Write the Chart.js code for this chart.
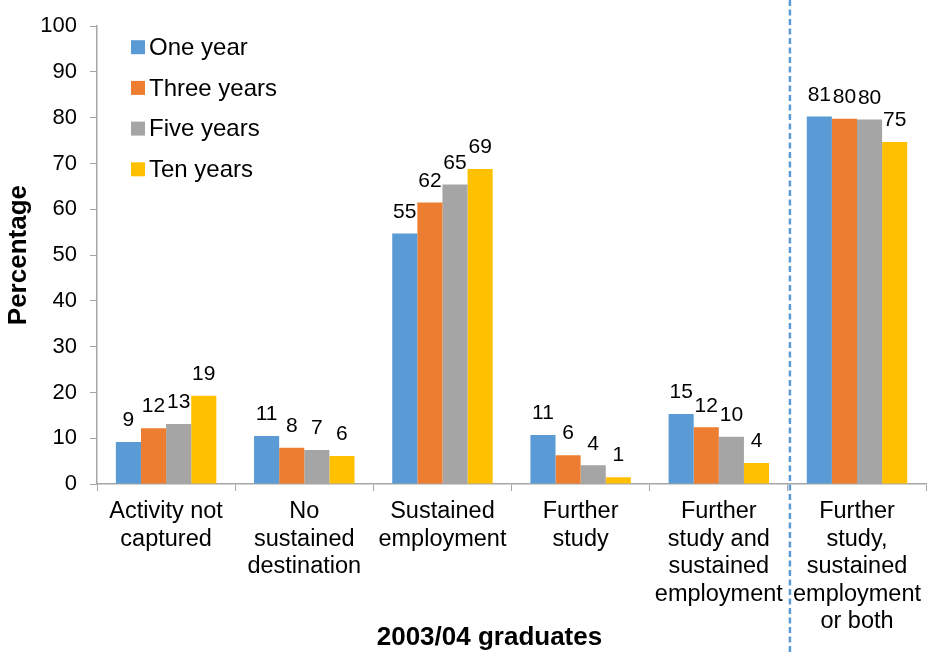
<!DOCTYPE html>
<html>
<head>
<meta charset="utf-8">
<script src="https://cdn.jsdelivr.net/npm/chart.js@4"></script>
<style>
  html, body { margin: 0; padding: 0; background: #fff; }
  #wrap { width: 928px; height: 655px; }
</style>
</head>
<body>
<div id="wrap"><canvas id="myChart" width="928" height="655"></canvas></div>
<script>
// 2003/04 graduates: activity after one, three, five and ten years
const categories = [
  ["Activity not", "captured"],
  ["No", "sustained", "destination"],
  ["Sustained", "employment"],
  ["Further", "study"],
  ["Further", "study and", "sustained", "employment"],
  ["Further", "study,", "sustained", "employment", "or both"]
];
const seriesNames = ["One year", "Three years", "Five years", "Ten years"];
const oneYear   = [9.2, 10.5, 54.7, 10.7, 15.3, 80.3];
const threeYear = [12.2, 7.9, 61.5, 6.3, 12.4, 79.8];
const fiveYear  = [13.1, 7.4, 65.4, 4.1, 10.3, 79.6];
const tenYear   = [19.3, 6.1, 68.8, 1.5, 4.6, 74.7];
// labels as printed on the chart
const oneYearLabels   = [9, 11, 55, 11, 15, 81];
const threeYearLabels = [12, 8, 62, 6, 12, 80];
const fiveYearLabels  = [13, 7, 65, 4, 10, 80];
const tenYearLabels   = [19, 6, 69, 1, 4, 75];
const yTicks = [0, 10, 20, 30, 40, 50, 60, 70, 80, 90, 100];

const colors = ["#5B9BD5", "#ED7D31", "#A5A5A5", "#FFC000"];
const FONT = "'Liberation Sans', Arial, sans-serif";
const axisColor = "#A6A6A6";

const seriesValues = [oneYear, threeYear, fiveYear, tenYear];
const seriesLabels = [oneYearLabels, threeYearLabels, fiveYearLabels, tenYearLabels];

const valueLabels = {
  id: "valueLabels",
  afterDatasetsDraw(chart) {
    const ctx = chart.ctx;
    ctx.save();
    ctx.font = "21px " + FONT;
    ctx.fillStyle = "#000";
    ctx.textAlign = "center";
    ctx.textBaseline = "bottom";
    chart.data.datasets.forEach((ds, i) => {
      chart.getDatasetMeta(i).data.forEach((bar, j) => {
        ctx.fillText(String(seriesLabels[i][j]), bar.x, bar.y - 11);
      });
    });
    ctx.restore();
  }
};

const extras = {
  id: "extras",
  afterDraw(chart) {
    const ctx = chart.ctx;
    const x = chart.scales.x;
    const area = chart.chartArea;
    ctx.save();
    // dashed separator before the last group
    const sep = (x.getPixelForValue(4) + x.getPixelForValue(5)) / 2 + 2;
    ctx.strokeStyle = "#5B9BD5";
    ctx.lineWidth = 2.5;
    ctx.setLineDash([6, 3.5]);
    ctx.beginPath();
    ctx.moveTo(sep, 0);
    ctx.lineTo(sep, chart.height);
    ctx.stroke();
    ctx.setLineDash([]);

    // legend inside the plot
    ctx.font = "24px " + FONT;
    ctx.textBaseline = "middle";
    ctx.textAlign = "left";
    chart.data.datasets.forEach((ds, i) => {
      const ly = area.top + 21 + i * 40.7;
      ctx.fillStyle = ds.backgroundColor;
      ctx.fillRect(area.left + 34, ly - 7, 14, 14);
      ctx.fillStyle = "#000";
      ctx.fillText(ds.label, area.left + 52, ly + 1);
    });

    // axis titles
    ctx.font = "bold 26px " + FONT;
    ctx.textAlign = "center";
    ctx.fillText("2003/04 graduates", (area.left + sep) / 2 + 46, 638);
    ctx.translate(19, (area.top + area.bottom) / 2);
    ctx.rotate(-Math.PI / 2);
    ctx.fillText("Percentage", 0, 0);
    ctx.restore();
  }
};

const ctx = document.getElementById("myChart").getContext("2d");
new Chart(ctx, {
  type: "bar",
  data: {
    labels: categories,
    datasets: seriesNames.map((name, i) => ({
      label: name,
      data: seriesValues[i],
      backgroundColor: colors[i],
      borderWidth: 0,
      categoryPercentage: 0.727,
      barPercentage: 1.0
    }))
  },
  options: {
    responsive: false,
    animation: false,
    layout: { padding: { top: 26, right: 0, left: 0, bottom: 0 } },
    plugins: {
      legend: { display: false },
      tooltip: { enabled: false }
    },
    scales: {
      x: {
        offset: true,
        grid: {
          offset: true,
          drawOnChartArea: false,
          color: axisColor,
          tickLength: 7
        },
        border: { color: axisColor, width: 1.5 },
        ticks: {
          color: "#000",
          font: { family: FONT, size: 23.5, lineHeight: 1.17 },
          padding: 7,
          maxRotation: 0,
          autoSkip: false
        },
        afterFit(scale) { scale.height = 171; }
      },
      y: {
        min: 0,
        max: 100,
        afterBuildTicks(scale) { scale.ticks = yTicks.map(v => ({ value: v })); },
        grid: {
          drawOnChartArea: false,
          color: axisColor,
          tickLength: 7
        },
        border: { color: axisColor, width: 1.5 },
        ticks: {
          color: "#000",
          font: { family: FONT, size: 22 },
          padding: 13
        },
        afterFit(scale) { scale.width = 97; }
      }
    }
  },
  plugins: [valueLabels, extras]
});
</script>
</body>
</html>
